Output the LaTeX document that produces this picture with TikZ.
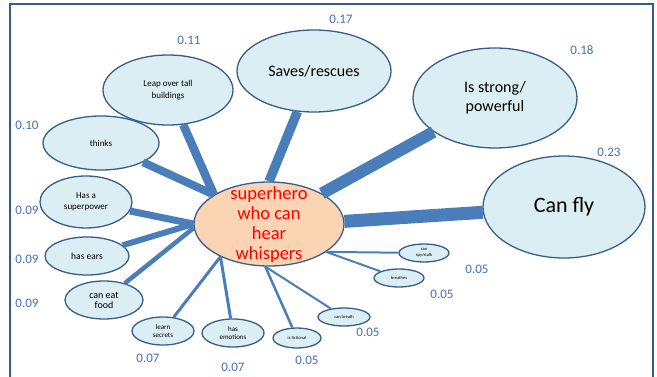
\documentclass[tikz,border=0pt]{standalone}
\usepackage{fontspec}
\setmainfont{Carlito}
\usetikzlibrary{shapes.geometric}
\definecolor{fillblue}{HTML}{DBEEF4}
\definecolor{edgeblue}{HTML}{385D8A}
\definecolor{linkblue}{HTML}{4A7EBB}
\definecolor{peach}{HTML}{FBD4B4}
\definecolor{numblue}{HTML}{4470AE}
\newcommand{\fs}[2]{\fontsize{#1}{#2}\selectfont}
\begin{document}
\begin{tikzpicture}[x=1pt,y=-1pt,
  bub/.style={ellipse, draw=edgeblue, line width=1.3pt, fill=fillblue, inner sep=0pt, align=center, text=black},
  link/.style={draw=linkblue},
  num/.style={text=numblue, font=\fs{13}{15}, inner sep=0pt}]
\useasboundingbox (0,0) rectangle (657,377);
\draw[edgeblue, line width=1.3pt] (10,385) -- (10,4) -- (653,4) -- (653,385);

% centre
\node[bub, fill=peach, minimum width=150pt, minimum height=84pt] (c) at (269,224) {};
\node[align=center, text=red, font=\fs{18.5}{20}, inner sep=0pt] (ctext) at (269,225) {superhero\\who can\\hear\\whispers};

% satellites
\node[bub, minimum width=130pt, minimum height=70pt, font=\fs{9}{12.5}] (leap) at (168,90) {Leap over tall\\buildings};
\node[bub, minimum width=154pt, minimum height=82pt, font=\fs{16}{19}] (saves) at (314,71) {Saves/rescues};
\node[bub, minimum width=164pt, minimum height=100pt, font=\fs{16}{19}] (strong) at (495,98) {Is strong/\\powerful};
\node[bub, minimum width=162pt, minimum height=102pt, font=\fs{22}{26}] (fly) at (564,207) {Can fly};
\node[bub, minimum width=116pt, minimum height=54pt, font=\fs{9}{11}] (thinks) at (101,143) {thinks};
\node[bub, minimum width=92pt, minimum height=52pt, font=\fs{9}{10.5}] (power) at (86,202) {Has a\\superpower};
\node[bub, minimum width=84pt, minimum height=38pt, font=\fs{9.5}{12}] (ears) at (87,256) {has ears};
\node[bub, minimum width=78pt, minimum height=38pt, font=\fs{10}{10}] (food) at (104,300) {can eat\\food};
\node[bub, minimum width=62pt, minimum height=28pt, font=\fs{7}{8.5}] (learn) at (163,331) {learn\\secrets};
\node[bub, minimum width=62pt, minimum height=28pt, font=\fs{7}{8.5}] (emo) at (233,333) {has\\emotions};
\node[bub, minimum width=48pt, minimum height=20pt, font=\fs{4.5}{5.5}] (fict) at (297,338) {is fictional};
\node[bub, minimum width=52pt, minimum height=18pt, font=\fs{4.5}{5.5}] (breath) at (344,317) {can breath};
\node[bub, minimum width=50pt, minimum height=18pt, font=\fs{4.5}{5.5}] (breathes) at (399,278) {breathes};
\node[bub, minimum width=50pt, minimum height=18pt, font=\fs{4.5}{5.5}] (spy) at (424,253) {can\\spy/stalk};

% connectors
\draw[link, line width=13pt] (fly) -- (c.2);
\draw[link, line width=12pt] (strong) -- (c.30);
\draw[link, line width=9.5pt] (saves) -- (c.90);
\draw[link, line width=8.5pt] (leap) -- (c.152);
\draw[link, line width=8pt] (thinks) -- (c.152);
\draw[link, line width=7pt] (power) -- (c.180);
\draw[link, line width=6pt] (ears) -- (c.180);
\draw[link, line width=4.5pt] (food) -- (c.183);
\draw[link, line width=3pt] (learn) -- (c.214);
\draw[link, line width=3pt] (emo) -- (c.214);
\draw[link, line width=2.5pt] (fict) -- (c.265);
\draw[link, line width=2pt] (breath) -- (c.265);
\draw[link, line width=2pt] (breathes) -- (c.334);
\draw[link, line width=2pt] (spy) -- (c.334);

% values
\node[num] (v1) at (341,19) {0.17};
\node[num] (v2) at (189,40) {0.11};
\node[num] (v3) at (582,50) {0.18};
\node[num] (v4) at (27,125) {0.10};
\node[num] (v5) at (609,152) {0.23};
\node[num] (v6) at (27,210) {0.09};
\node[num] (v7) at (27,259) {0.09};
\node[num] (v8) at (27,303) {0.09};
\node[num] (v9) at (148,358) {0.07};
\node[num] (v10) at (233,367) {0.07};
\node[num] (v11) at (307,360) {0.05};
\node[num] (v12) at (368,332) {0.05};
\node[num] (v13) at (442,294) {0.05};
\node[num] (v14) at (477,269) {0.05};
\end{tikzpicture}
\end{document}
